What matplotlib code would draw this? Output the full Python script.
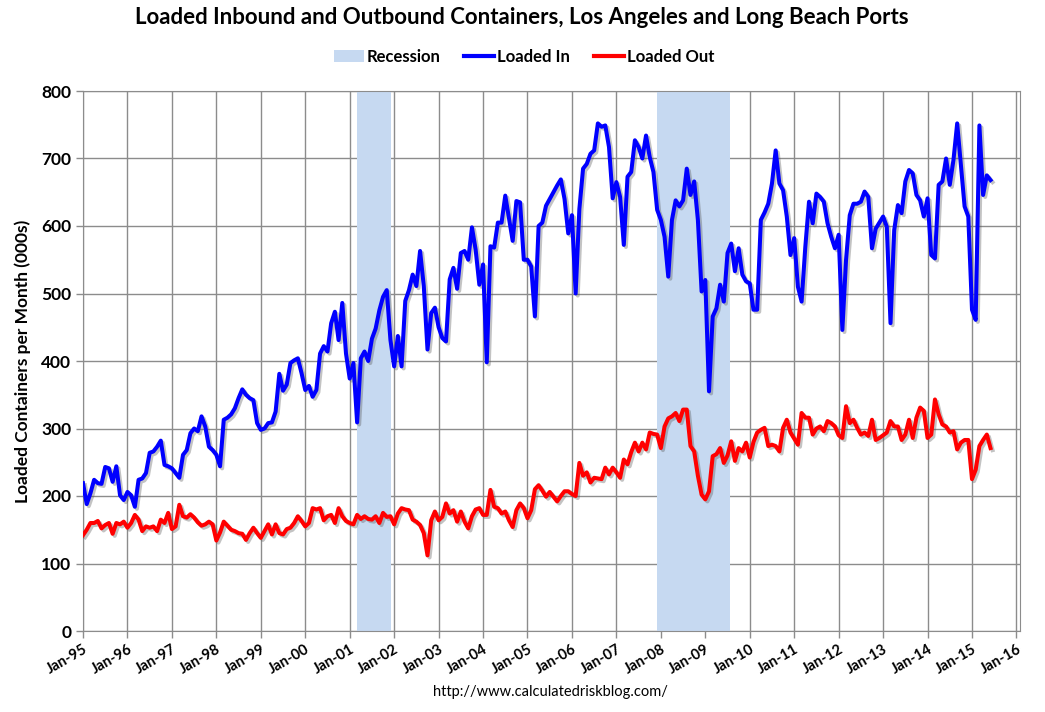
import numpy as np
import matplotlib
matplotlib.use('Agg')
import matplotlib.pyplot as plt
import matplotlib.patheffects as pe
from matplotlib.patches import Patch
from matplotlib.lines import Line2D

plt.rcParams['font.family'] = ['Lato', 'DejaVu Sans']

# monthly values, Jan 1995 .. Jun 2015 (thousands of containers)
loaded_in = [
    219, 188, 204, 224, 219, 218, 243, 241, 221, 244, 201, 194,  # 1995
    206, 201, 184, 224, 226, 234, 264, 266, 273, 282, 246, 244,  # 1996
    241, 234, 227, 261, 268, 293, 300, 296, 318, 303, 273, 268,  # 1997
    261, 244, 313, 316, 321, 330, 345, 358, 350, 345, 342, 308,  # 1998
    298, 300, 308, 309, 325, 381, 356, 365, 397, 401, 404, 382,  # 1999
    357, 363, 347, 357, 411, 422, 414, 456, 473, 431, 486, 411,  # 2000
    374, 397, 309, 404, 414, 400, 433, 448, 475, 495, 505, 431,  # 2001
    392, 437, 392, 489, 505, 528, 511, 563, 511, 417, 471, 479,  # 2002
    450, 434, 429, 521, 538, 507, 560, 563, 550, 598, 565, 513,  # 2003
    543, 398, 570, 568, 605, 605, 645, 612, 578, 637, 635, 550,  # 2004
    550, 540, 466, 600, 605, 630, 640, 650, 660, 669, 640, 589,  # 2005
    616, 500, 625, 685, 692, 707, 712, 752, 747, 749, 717, 641,  # 2006
    665, 643, 572, 673, 680, 727, 717, 700, 734, 702, 680, 624,  # 2007
    609, 584, 525, 609, 638, 629, 638, 685, 646, 666, 609, 503,  # 2008
    520, 355, 466, 478, 513, 488, 560, 574, 533, 567, 528, 518,  # 2009
    515, 476, 476, 609, 620, 633, 663, 712, 663, 653, 614, 557,  # 2010
    582, 510, 488, 569, 636, 604, 648, 643, 636, 604, 584, 567,  # 2011
    587, 446, 550, 616, 633, 633, 636, 651, 643, 567, 596, 605,  # 2012
    614, 599, 456, 594, 631, 619, 666, 683, 678, 646, 638, 614,  # 2013
    641, 557, 552, 661, 666, 700, 661, 698, 752, 690, 629, 614,  # 2014
    476, 461, 749, 646, 675, 668,                                # 2015
]

loaded_out = [
    142, 150, 160, 160, 163, 152, 157, 160, 144, 160, 158, 162,  # 1995
    153, 160, 172, 165, 148, 155, 153, 155, 148, 165, 160, 175,  # 1996
    151, 155, 187, 170, 168, 173, 168, 161, 156, 158, 162, 158,  # 1997
    134, 146, 162, 156, 150, 148, 145, 144, 135, 145, 153, 145,  # 1998
    138, 148, 158, 143, 158, 145, 143, 151, 153, 160, 170, 163,  # 1999
    155, 160, 182, 180, 182, 164, 170, 172, 160, 182, 170, 163,  # 2000
    160, 158, 172, 166, 170, 166, 165, 170, 160, 175, 169, 170,  # 2001
    158, 174, 182, 180, 179, 165, 162, 157, 145, 112, 164, 177,  # 2002
    164, 169, 189, 174, 179, 162, 177, 162, 152, 170, 180, 182,  # 2003
    172, 172, 209, 184, 182, 174, 177, 164, 154, 179, 189, 182,  # 2004
    167, 179, 210, 216, 208, 199, 206, 199, 192, 200, 207, 207,  # 2005
    203, 200, 249, 230, 235, 220, 227, 226, 225, 242, 232, 242,  # 2006
    235, 227, 254, 247, 265, 279, 266, 279, 269, 294, 292, 291,  # 2007
    271, 303, 315, 318, 323, 311, 328, 328, 274, 266, 230, 202,  # 2008
    195, 207, 259, 262, 271, 249, 260, 281, 252, 271, 266, 279,  # 2009
    257, 280, 294, 298, 301, 274, 276, 274, 266, 301, 313, 294,  # 2010
    285, 276, 323, 316, 316, 291, 300, 303, 296, 311, 308, 303,  # 2011
    290, 286, 333, 308, 313, 301, 291, 294, 289, 313, 283, 286,  # 2012
    290, 294, 311, 303, 303, 283, 291, 313, 286, 316, 331, 326,  # 2013
    286, 291, 343, 321, 306, 303, 294, 296, 269, 279, 283, 283,  # 2014
    225, 239, 274, 283, 291, 271,                                # 2015
]

recession_start = [2001.17, 2007.92]
recession_end = [2001.92, 2009.55]

years = list(range(1995, 2017))
year_labels = ['Jan-%02d' % (y % 100) for y in years]

months = 1995 + np.arange(len(loaded_in)) / 12.0

fig = plt.figure(figsize=(10.45, 7.12), dpi=100)
ax = fig.add_axes([83 / 1045, 1 - 631 / 712, (1020 - 83) / 1045, (631 - 91) / 712])

for s, e in zip(recession_start, recession_end):
    ax.axvspan(s, e, color='#c6d9f1', lw=0, zorder=1)

shadow = [pe.SimpleLineShadow(offset=(1.5, -1.5), shadow_color='#555555', alpha=0.35), pe.Normal()]
ax.plot(months, loaded_in, color='#0000ff', lw=2.9, zorder=3, path_effects=shadow,
        solid_joinstyle='round')
ax.plot(months, loaded_out, color='#ff0000', lw=2.9, zorder=3, path_effects=shadow,
        solid_joinstyle='round')

ax.set_xlim(1995, 2016.08)
ax.set_ylim(0, 800)
ax.set_xticks(years)
ax.set_xticklabels(year_labels, rotation=30, ha='right', rotation_mode='anchor',
                   fontsize=10.5, fontweight='bold')
ax.set_yticks(range(0, 801, 100))
ax.set_yticklabels([str(v) for v in range(0, 801, 100)], fontsize=12.5, fontweight='bold')
ax.grid(True, color='#8c8c8c', lw=1.0, zorder=0)
ax.set_axisbelow(True)
for sp in ax.spines.values():
    sp.set_color('#8c8c8c')
ax.tick_params(axis='both', color='#8c8c8c', length=5, width=1)
ax.tick_params(axis='x', pad=3)

ax.set_ylabel('Loaded Containers per Month (000s)', fontsize=12.5, fontweight='bold', labelpad=7)

fig.text(522 / 1045, 1 - 18 / 712, 'Loaded Inbound and Outbound Containers, Los Angeles and Long Beach Ports',
         ha='center', va='center', fontsize=16, fontweight='bold')

handles = [Patch(facecolor='#c6d9f1', edgecolor='none'),
           Line2D([], [], color='#0000ff', lw=3),
           Line2D([], [], color='#ff0000', lw=3)]
fig.legend(handles, ['Recession', 'Loaded In', 'Loaded Out'], loc='center',
           bbox_to_anchor=(524 / 1045, 1 - 57 / 712), ncol=3, frameon=False,
           prop={'weight': 'bold', 'size': 12}, handlelength=1.8, handletextpad=0.2,
           columnspacing=1.4)

fig.text(550 / 1045, 1 - 692 / 712, 'http://www.calculatedriskblog.com/', ha='center', va='center',
         fontsize=10.5)

fig.savefig('out.png', dpi=100)
